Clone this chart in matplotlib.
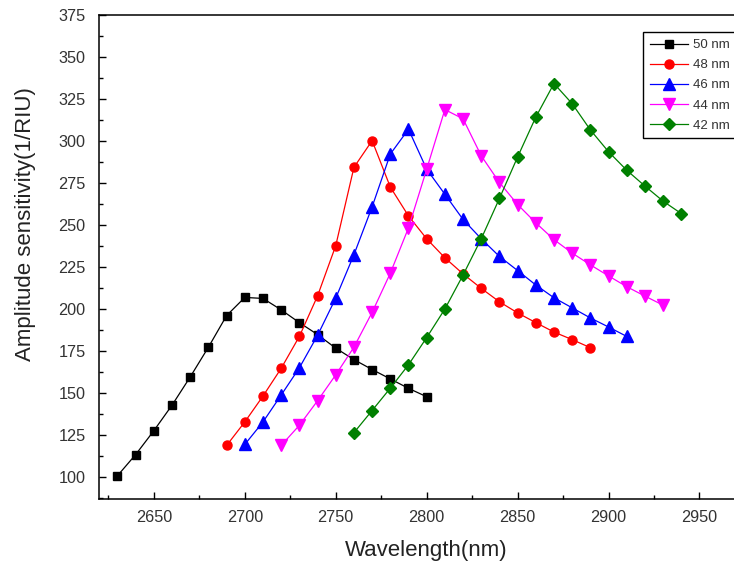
import matplotlib
matplotlib.use("Agg")
import matplotlib.pyplot as plt
from matplotlib.ticker import MultipleLocator
import numpy as np

plt.rcParams['font.family'] = ['Liberation Sans', 'DejaVu Sans']

# Data
wl_50 = list(range(2630, 2801, 10))
s_50 = [101, 113.6, 127.8, 143, 159.8, 177.5, 196.3, 207.1, 206.5, 199.7, 192.1,
        185, 176.9, 170.1, 164.2, 158.6, 153, 148]

wl_48 = list(range(2690, 2891, 10))
s_48 = [119, 133, 148.4, 164.9, 183.9, 208, 237.9, 284.5, 300.4, 272.8, 255.6,
        242, 230.7, 221.1, 212.5, 204.5, 197.9, 192.1, 186.5, 182, 177.2]

wl_46 = list(range(2700, 2911, 10))
s_46 = [119.6, 133, 149, 165.2, 184.5, 206.7, 232.5, 261, 292.4, 307.2, 283.4,
        268.5, 253.5, 242, 231.5, 223.1, 214.5, 206.9, 200.9, 194.9, 189.5, 183.9]

wl_44 = list(range(2720, 2931, 10))
s_44 = [119, 131, 145.6, 161, 177.5, 198.2, 221.5, 248.5, 283.4, 318.9, 313.4,
        291.4, 275.5, 262.4, 251.5, 241.5, 233.5, 226.5, 219.9, 213.5, 207.9, 202.5]

wl_42 = list(range(2760, 2941, 10))
s_42 = [126.6, 139.8, 153.1, 167, 183.2, 200.2, 220.4, 242, 266, 290.7, 314.4,
        334.4, 322.4, 306.8, 293.8, 282.8, 273.4, 264.4, 257]

labels = ['50 nm', '48 nm', '46 nm', '44 nm', '42 nm']
colors = ['black', '#ff0000', '#0000ff', '#ff00ff', '#008000']
markers = ['s', 'o', '^', 'v', 'D']
msizes = [6, 6.5, 8, 8, 6]

series = [(wl_50, s_50), (wl_48, s_48), (wl_46, s_46), (wl_44, s_44), (wl_42, s_42)]

fig = plt.figure(figsize=(7.34, 5.65), dpi=100)
ax = fig.add_axes([0.1353, 0.1173, 0.892, 0.8556])

for (x, y), lab, c, m, ms in zip(series, labels, colors, markers, msizes):
    ax.plot(x, y, color=c, marker=m, markersize=ms, linewidth=0.9, label=lab,
            markeredgecolor=c, markerfacecolor=c)

ax.set_xlim(2620, 2980)
ax.set_ylim(87.3, 375)
ax.xaxis.set_minor_locator(MultipleLocator(25))
ax.yaxis.set_major_locator(MultipleLocator(25))
ax.yaxis.set_minor_locator(MultipleLocator(12.5))
ax.set_xticks([2650, 2700, 2750, 2800, 2850, 2900, 2950])
ax.tick_params(axis='both', which='major', direction='in', length=5, width=1,
               labelsize=11.7, labelcolor='#333333')
ax.tick_params(axis='y', which='major', pad=10)
ax.tick_params(axis='x', which='major', pad=8)
ax.tick_params(axis='both', which='minor', direction='in', length=3, width=1)
ax.tick_params(top=False, right=False, which='both')
for sp in ax.spines.values():
    sp.set_linewidth(1.1)

ax.set_xlabel('Wavelength(nm)', fontsize=16, color='#222222', labelpad=11)
ax.set_ylabel('Amplitude sensitivity(1/RIU)', fontsize=16, color='#222222')
ax.yaxis.set_label_coords(-0.097, 0.568)

leg = ax.legend(loc='upper left', bbox_to_anchor=(0.8765, 0.9428),
                bbox_transform=fig.transFigure, borderaxespad=0,
                fontsize=9.5, frameon=True, fancybox=False, framealpha=1,
                edgecolor='black', handlelength=2.9, handletextpad=0.4,
                labelspacing=0.6, borderpad=0.5)
leg.get_frame().set_linewidth(1.0)
for t in leg.get_texts():
    t.set_color('#333333')

fig.savefig('out.png', dpi=100)
